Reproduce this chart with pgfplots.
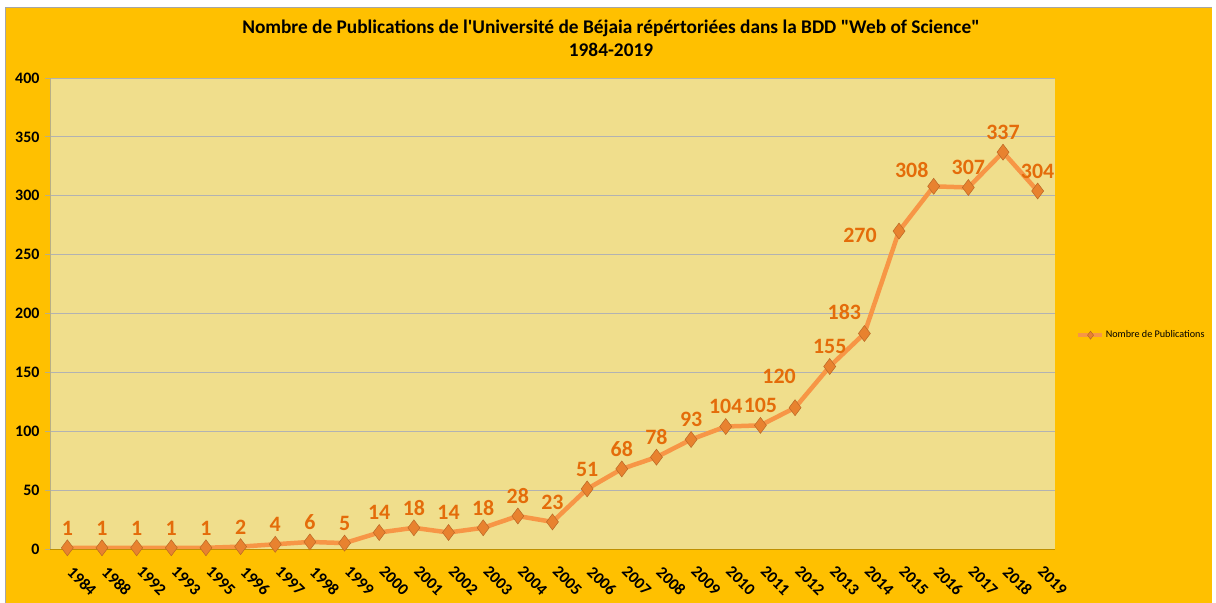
\documentclass[border=0pt]{standalone}
\usepackage{pgfplots}
\pgfplotsset{compat=1.18}
\usepackage{fontspec}
\setmainfont{Carlito}[Ligatures=TeXOff]
\definecolor{bgor}{HTML}{FFC000}
\definecolor{plotbg}{HTML}{F0DE8C}
\definecolor{lineor}{HTML}{F79646}
\definecolor{lab}{HTML}{E46C0A}
\definecolor{mk}{HTML}{E8822F}
\begin{document}
\begin{tikzpicture}[x=1bp,y=1bp]
\useasboundingbox (0,0) rectangle (1216,603);
\fill[white] (0,0) rectangle (1216,603);
\fill[bgor] (6,0) rectangle (1212,596);
\draw[gray!70, line width=0.6bp] (5,596) -- (1212,596);
\draw[gray!70, line width=0.6bp] (5.5,0) -- (5.5,596);
\node[font=\bfseries\fontsize{19.4}{23}\selectfont, align=center] at (611,565)
  {Nombre de Publications de l'Université de Béjaia répértoriées dans la BDD "Web of Science"\\1984-2019};
\begin{axis}[
  at={(50bp,54bp)}, anchor=south west,
  scale only axis, width=1005bp, height=471bp,
  xmin=-0.5, xmax=28.5, ymin=0, ymax=400,
  ytick={0,50,...,400},
  xtick={0,...,28},
  xticklabels={1984,1988,1992,1993,1995,1996,1997,1998,1999,2000,2001,2002,2003,2004,2005,2006,2007,2008,2009,2010,2011,2012,2013,2014,2015,2016,2017,2018,2019},
  extra x ticks={-0.5,0.5,...,28.5}, extra x tick labels={},
  extra x tick style={grid=none, major tick length=5bp, tick style={draw=black!25!bgor, line width=0.8bp}, tick pos=bottom},
  major x tick style={draw=none},
  axis background/.style={fill=plotbg},
  ymajorgrids, grid style={draw=gray!60, line width=0.8bp},
  axis x line*=bottom, axis y line*=left,
  y axis line style={draw=gray!50!plotbg, line width=0.8bp},
  x axis line style={draw=black!25!bgor, line width=0.8bp},
  ytick style={draw=gray!50!plotbg, line width=0.8bp},
  tick align=outside, major tick length=5bp,
  tick pos=left,
  yticklabel style={font=\bfseries\fontsize{16}{18}\selectfont, xshift=-2bp},
  xticklabel style={font=\bfseries\fontsize{16.5}{18}\selectfont, rotate=-45, anchor=north west, xshift=9.4bp, yshift=0.5bp},
  /pgf/number format/assume math mode=true,
  nodes near coords,
  every node near coord/.append style={font=\bfseries\fontsize{22}{24}\selectfont, text=lab, anchor=south, yshift=9bp},
  legend style={at={(rel axis cs:1.02,0.454)}, anchor=west, draw=none, fill=none, font=\fontsize{10.2}{12}\selectfont, legend cell align=left, inner sep=0pt},
  legend image code/.code={\draw[#1, mark=none] (0bp,0bp) -- (24bp,0bp); \path[#1, mark size=4bp] plot coordinates {(13bp,0bp)};},
]
\addplot[lineor, line width=4.5bp, mark=diamond*, mark size=8bp,
  mark options={fill=mk, draw=mk!80!black, line width=0.5bp},
  visualization depends on={\thisrow{dx} \as \dx},
  visualization depends on={\thisrow{dy} \as \dy},
  every node near coord/.append style={xshift=\dx bp, yshift=\dy bp},
] table[x=x, y=y] {
x y dx dy
0 1 0 0
1 1 0 0
2 1 0 0
3 1 0 0
4 1 0 0
5 2 0 0
6 4 0 0
7 6 0 0
8 5 0 0
9 14 0 0
10 18 0 0
11 14 0 0
12 18 0 0
13 28 0 0
14 23 0 0
15 51 0 0
16 68 0 0
17 78 0 0
18 93 0 0
19 104 0 0
20 105 0 0
21 120 -16 11
22 155 0 0
23 183 -20 1
24 270 -39 -24
25 308 -22 -4
26 307 0 0
27 337 0 0
28 304 0 0
};
\addlegendentry{Nombre de Publications}
\end{axis}
\end{tikzpicture}
\end{document}
